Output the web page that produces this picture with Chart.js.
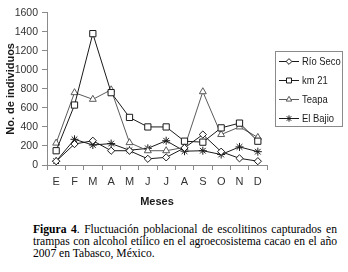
<!DOCTYPE html>
<html>
<head>
<meta charset="utf-8">
<script src="https://cdn.jsdelivr.net/npm/chart.js@4.4.1/dist/chart.umd.min.js"></script>
<style>
  html, body { margin: 0; padding: 0; background: #fff; }
  #wrap { position: relative; width: 348px; height: 272px; overflow: hidden; background: #fff; }
  #chart { position: absolute; left: 0; top: 0; }
  #caption { position: absolute; left: 33px; top: 224px; width: 304px;
    font-family: 'Liberation Serif', 'Times New Roman', serif; font-size: 11.6px; line-height: 12px; color: #000; }
  #caption .j { text-align: justify; text-align-last: justify; white-space: nowrap; }
  #caption .l { text-align: left; }
</style>
</head>
<body>
<div id="wrap">
  <canvas id="chart" width="348" height="215"></canvas>
  <div id="caption">
    <div class="j"><b>Figura 4</b>. Fluctuación poblacional de escolitinos capturados en</div>
    <div class="j">trampas con alcohol etílico en el agroecosistema cacao en el año</div>
    <div class="l">2007 en Tabasco, México.</div>
  </div>
</div>
<script>
const months = ['E','F','M','A','M','J','J','A','S','O','N','D'];
const rioSeco = [40, 220, 255, 150, 150, 65, 80, 180, 320, 140, 70, 40];
const km21    = [150, 630, 1380, 760, 500, 400, 400, 250, 240, 390, 440, 250];
const teapa   = [230, 760, 690, 790, 235, 150, 150, 185, 770, 320, 400, 290];
const elBajio = [40, 270, 210, 225, 155, 175, 255, 145, 150, 110, 190, 140];
const yTicksMax = 1600, yStep = 200;

const FONT = "'Liberation Sans', Arial, sans-serif";
const dark = '#1a1a1a';
const grey = '#5a5a5a';

function ds(label, data, style, radius, color) {
  return {
    label, data,
    borderColor: color, borderWidth: 1,
    pointStyle: style, pointRadius: radius, pointHoverRadius: radius,
    pointBorderColor: color, pointBackgroundColor: '#fff', pointBorderWidth: 1,
    tension: 0, fill: false
  };
}

const legendPlugin = {
  id: 'boxLegend',
  afterDraw(chart) {
    const ctx = chart.ctx;
    ctx.save();
    ctx.strokeStyle = '#8a8a8a';
    ctx.lineWidth = 1;
    ctx.strokeRect(275.5, 51.5, 67, 75);
    const ys = [61, 80, 99, 118];
    chart.data.datasets.forEach((d, i) => {
      const y = ys[i];
      ctx.strokeStyle = d.borderColor;
      ctx.lineWidth = 1;
      ctx.beginPath();
      ctx.moveTo(279, y + 0.5);
      ctx.lineTo(299, y + 0.5);
      ctx.stroke();
      const opts = { pointStyle: d.pointStyle, radius: d.pointRadius * 0.8, rotation: 0, borderWidth: 1 };
      ctx.fillStyle = '#fff';
      ctx.strokeStyle = d.borderColor;
      if (Chart.helpers && Chart.helpers.drawPoint) {
        Chart.helpers.drawPoint(ctx, opts, 289, y + 0.5);
      }
      ctx.save();
      ctx.translate(302, y + 0.5);
      ctx.scale(0.82, 1);
      ctx.fillStyle = dark;
      ctx.font = '11.5px ' + FONT;
      ctx.textBaseline = 'middle';
      ctx.textAlign = 'left';
      ctx.fillText(d.label, 0, 0);
      ctx.restore();
    });
    ctx.restore();
  }
};

new Chart(document.getElementById('chart'), {
  type: 'line',
  data: {
    labels: months,
    datasets: [
      ds('Río Seco', rioSeco, 'rectRot', 3.6, dark),
      ds('km 21', km21, 'rect', 4.4, dark),
      ds('Teapa', teapa, 'triangle', 4, grey),
      ds('El Bajio', elBajio, 'star', 4, dark)
    ]
  },
  options: {
    responsive: false,
    animation: false,
    devicePixelRatio: 1,
    layout: { padding: { top: 12.7, right: 81, left: 0, bottom: 0 } },
    plugins: { legend: { display: false }, tooltip: { enabled: false } },
    scales: {
      x: {
        type: 'category',
        offset: true,
        grid: { offset: true, drawOnChartArea: false, tickLength: 5, color: '#8a8a8a' },
        border: { color: '#8a8a8a' },
        ticks: { font: { size: 11, family: FONT }, color: '#333', padding: 5, maxRotation: 0, autoSkip: false },
        title: { display: true, text: 'Meses', color: dark, font: { size: 11, weight: 'bold', family: FONT }, padding: { top: 0, bottom: 6 } },
        afterFit: s => { s.height = 50; }
      },
      y: {
        min: 0, max: yTicksMax,
        grid: { drawOnChartArea: false, tickLength: 5, color: '#8a8a8a' },
        border: { color: '#8a8a8a' },
        ticks: { stepSize: yStep, font: { size: 10.5, family: FONT }, color: '#333', padding: 4,
                 callback: v => String(v) },
        title: { display: true, text: 'No. de individuos', color: dark, font: { size: 11, weight: 'bold', family: FONT }, padding: { top: 4, bottom: 0 } },
        afterFit: s => { s.width = 47; }
      }
    }
  },
  plugins: [legendPlugin]
});
</script>
</body>
</html>
